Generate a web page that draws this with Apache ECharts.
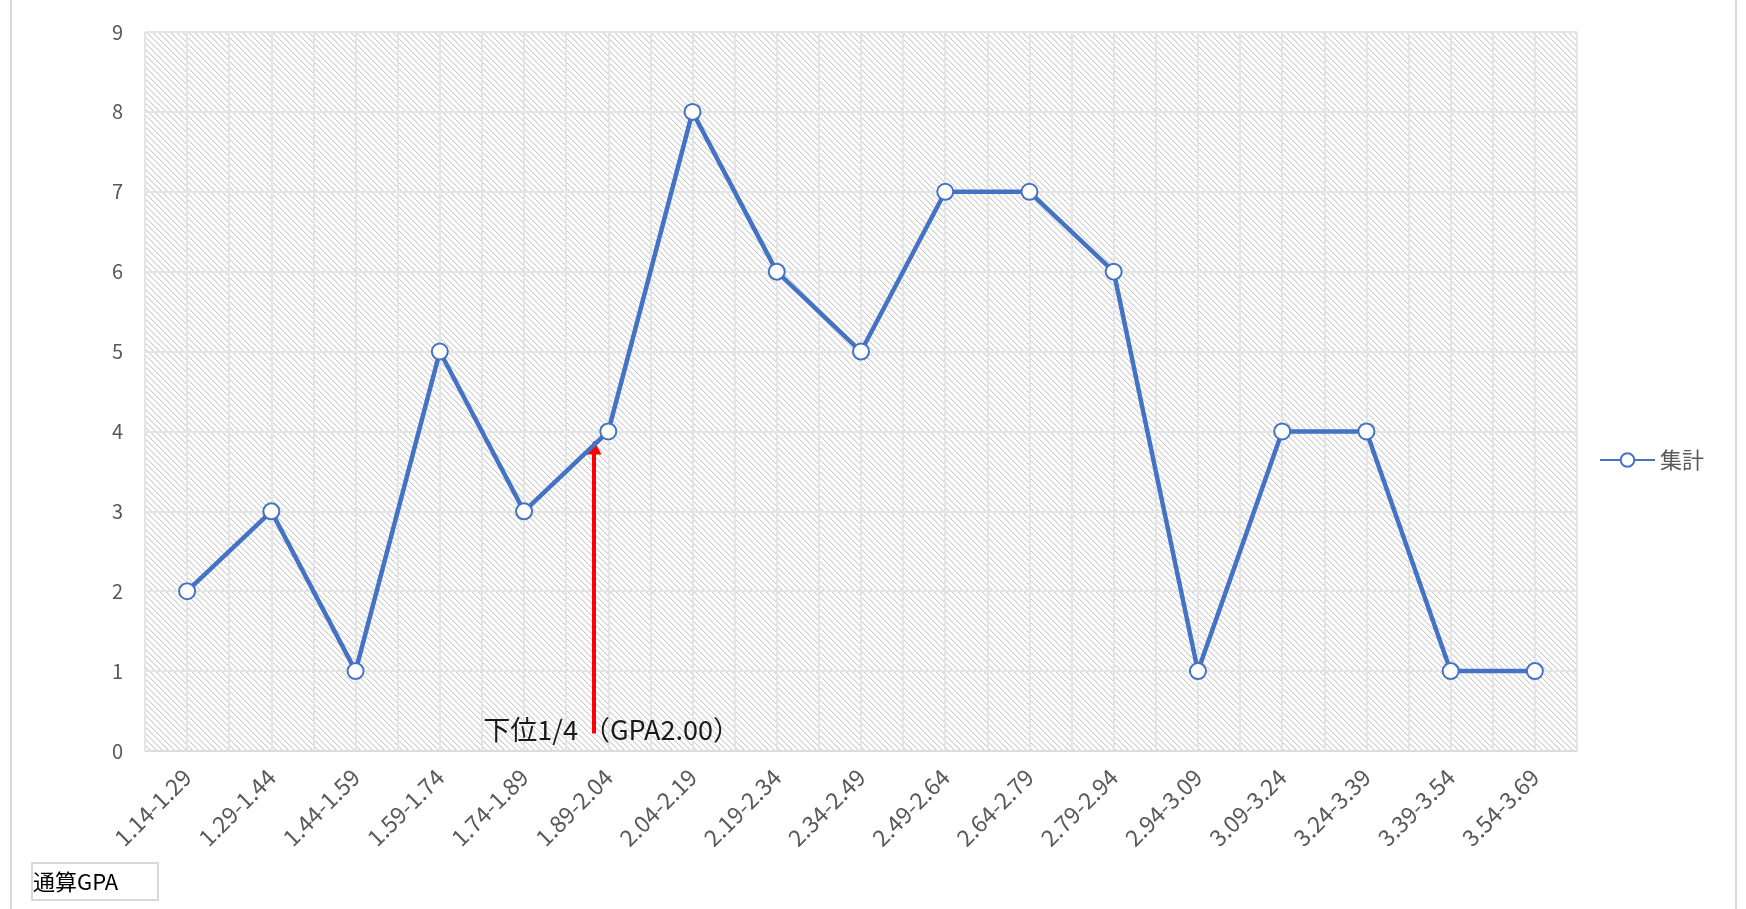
<!DOCTYPE html>
<html>
<head>
<meta charset="utf-8">
<script src="https://cdn.jsdelivr.net/npm/echarts@6/dist/echarts.min.js"></script>
<style>
  html, body { margin: 0; padding: 0; background: #fff; }
  #chart { width: 1746px; height: 909px; }
</style>
</head>
<body>
<div id="chart"></div>
<script>
// GPA bands and headcount per band
var categories = ['1.14-1.29', '1.29-1.44', '1.44-1.59', '1.59-1.74', '1.74-1.89', '1.89-2.04',
  '2.04-2.19', '2.19-2.34', '2.34-2.49', '2.49-2.64', '2.64-2.79', '2.79-2.94',
  '2.94-3.09', '3.09-3.24', '3.24-3.39', '3.39-3.54', '3.54-3.69']
var counts = [2, 3, 1, 5, 3, 4, 8, 6, 5, 7, 7, 6, 1, 4, 4, 1, 1]
var yTicks = [0, 9, 1] // min, max, interval

// arrow for the lower quartile (x in category units, y in count units)
var arrowFrom = [5.33, 0.22]
var arrowTo = [5.33, 3.8]
var noteAt = [5.54, 0.27]
var noteText = '{c|下位}{l|1/4}{p|（}{l|GPA2.00}{c|）}'

var font = "'Noto Sans CJK JP', sans-serif"

// hatched background tile
var makeHatch = function () {
  var n = 6
  var c = document.createElement('canvas')
  c.width = n
  c.height = n
  var ctx = c.getContext('2d')
  var img = ctx.createImageData(n, n)
  for (var y = 0; y < n; y++) {
    for (var x = 0; x < n; x++) {
      var d = ((x - y) % n + n) % n
      var v = d === 0 ? 205 : (d === 1 ? 234 : 255)
      var i = (y * n + x) * 4
      img.data[i] = v
      img.data[i + 1] = v
      img.data[i + 2] = v
      img.data[i + 3] = 255
    }
  }
  ctx.putImageData(img, 0, 0)
  return c
}

var chart = echarts.init(document.getElementById('chart'))
var option = {
  animation: false,
  backgroundColor: '#fff',
  textStyle: { fontFamily: font },
  grid: {
    left: 145,
    top: 32,
    right: 169,
    bottom: 158,
    show: true,
    borderWidth: 0,
    backgroundColor: { image: makeHatch(), repeat: 'repeat' }
  },
  legend: {
    data: ['集計'],
    left: 1594,
    top: 444,
    itemWidth: 55,
    itemHeight: 17,
    itemGap: 4,
    textStyle: { fontSize: 22, color: '#595959', fontFamily: font }
  },
  xAxis: [
    {
      type: 'category',
      data: categories,
      boundaryGap: true,
      axisTick: { show: false },
      axisLine: { lineStyle: { color: '#d9d9d9', width: 1.5 } },
      axisLabel: { rotate: 45, fontSize: 23, color: '#595959', margin: 22, interval: 0 },
      splitLine: { show: false }
    },
    {
      type: 'value',
      min: 0,
      max: categories.length,
      interval: 0.5,
      position: 'bottom',
      axisLabel: { show: false },
      axisLine: { show: false },
      axisTick: { show: false },
      splitLine: { show: true, lineStyle: { color: '#e4e4e4', width: 2 } }
    }
  ],
  yAxis: {
    type: 'value',
    min: yTicks[0],
    max: yTicks[1],
    interval: yTicks[2],
    axisLine: { show: false },
    axisTick: { show: false },
    axisLabel: { fontSize: 20, color: '#595959', margin: 22 },
    splitLine: { lineStyle: { color: '#e4e4e4', width: 2 } }
  },
  series: [
    {
      name: '集計',
      type: 'line',
      data: counts,
      symbol: 'emptyCircle',
      symbolSize: 16,
      z: 5,
      lineStyle: { color: '#4472c4', width: 4.5 },
      itemStyle: { color: '#4472c4', borderWidth: 3.5, borderColor: '#4472c4' }
    },
    {
      name: 'note',
      type: 'line',
      xAxisIndex: 1,
      data: [],
      z: 6,
      markLine: {
        silent: true,
        symbol: ['none', 'triangle'],
        symbolSize: [15, 14],
        label: { show: false },
        lineStyle: { color: '#ff0000', width: 4, type: 'solid' },
        data: [[{ coord: arrowFrom }, { coord: arrowTo }]]
      },
      markPoint: {
        silent: true,
        symbol: 'circle',
        symbolSize: 1,
        itemStyle: { color: 'transparent' },
        label: {
          show: true,
          position: 'inside',
          formatter: noteText,
          rich: {
            c: { fontSize: 27, color: '#1a1a1a', fontFamily: font },
            p: { fontSize: 27, color: '#1a1a1a', fontFamily: font, padding: [0, 0, 0, 5] },
            l: { fontSize: 27, color: '#1a1a1a', fontFamily: font }
          }
        },
        data: [{ coord: noteAt }]
      }
    }
  ],
  graphic: [
    { type: 'line', shape: { x1: 11, y1: 0, x2: 11, y2: 909 }, style: { stroke: '#d9d9d9', lineWidth: 2 } },
    { type: 'line', shape: { x1: 1736, y1: 0, x2: 1736, y2: 909 }, style: { stroke: '#d9d9d9', lineWidth: 2 } },
    {
      type: 'rect',
      shape: { x: 32, y: 863, width: 126, height: 37 },
      style: { fill: '#fff', stroke: '#d9d9d9', lineWidth: 2 }
    },
    {
      type: 'text',
      left: 33,
      top: 871,
      style: { text: '通算GPA', fontSize: 22, fill: '#000', fontFamily: font }
    }
  ]
}
chart.setOption(option)
</script>
</body>
</html>
